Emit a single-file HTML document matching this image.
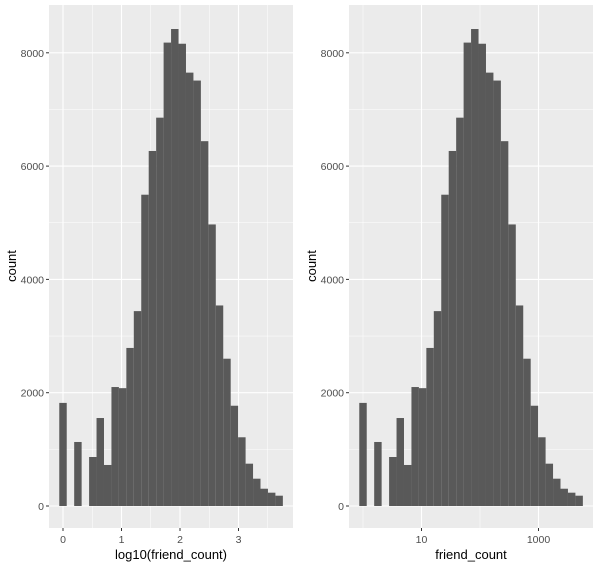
<!DOCTYPE html>
<html><head><meta charset="utf-8"><style>
html,body{margin:0;padding:0;background:#fff;}
svg{display:block;font-family:"Liberation Sans",Arial,sans-serif;}
</style></head><body>
<svg id="chart" width="600" height="567" viewBox="0 0 600 567"></svg>
<script>
const binCounts = [1820,0,1130,0,865,1553,724,2100,2080,2790,3440,5495,6267,6855,8180,8420,8160,7650,7510,6440,4970,3540,2600,1770,1213,747,482,305,235,182];
const binWidth = 0.1274;
const yTicks = [0,2000,4000,6000,8000];
const leftXTicks = [0,1,2,3];
const leftXTickLabels = ["0","1","2","3"];
const rightXTicks = [1,3];
const rightXTickLabels = ["10","1000"];
const rightXMinor = [0,2];
const leftXMinor = [0.5,1.5,2.5,3.5];

const NS="http://www.w3.org/2000/svg";
const svg=document.getElementById('chart');
function mk(tag,attrs,parent){const e=document.createElementNS(NS,tag);for(const k in attrs)e.setAttribute(k,attrs[k]);(parent||svg).appendChild(e);return e;}
const y=v=>506-v*0.05665;

function panel(ox,xTicks,xLabels,xMinor,xTitle,name){
  const xs=v=>ox+63+58.5*v;
  const g=mk('g',{});
  
  
  const bg=mk('rect',{x:ox+49,y:5,width:244,height:523,fill:'#ebebeb'},g);
  
  
  // y minor
  for(let v=1000;v<=7000;v+=2000){const l=mk('line',{x1:ox+49,x2:ox+293,y1:y(v),y2:y(v),stroke:'#fff','stroke-width':0.5},g);}
  xMinor.forEach(v=>{const l=mk('line',{x1:xs(v),x2:xs(v),y1:5,y2:528,stroke:'#fff','stroke-width':0.5},g);});
  yTicks.forEach(v=>{const l=mk('line',{x1:ox+49,x2:ox+293,y1:y(v),y2:y(v),stroke:'#fff','stroke-width':1.1},g);});
  xTicks.forEach(v=>{const l=mk('line',{x1:xs(v),x2:xs(v),y1:5,y2:528,stroke:'#fff','stroke-width':1.1},g);});
  binCounts.forEach((c,k)=>{
    if(c<=0)return;
    const x0=xs((k-0.5)*binWidth),x1=xs((k+0.5)*binWidth);
    const r=mk('rect',{x:x0,y:y(c),width:x1-x0,height:y(0)-y(c),fill:'#595959'},g);
    
    
  });
  yTicks.forEach(v=>{
    const t=mk('line',{x1:ox+46,x2:ox+49,y1:y(v),y2:y(v),stroke:'#333','stroke-width':1},g);
    
    const tx=mk('text',{x:ox+44,y:y(v)+4,'text-anchor':'end','font-size':'10.5',fill:'#4d4d4d'},g);
    tx.textContent=String(v);
    
  });
  xTicks.forEach((v,i)=>{
    const t=mk('line',{x1:xs(v),x2:xs(v),y1:528,y2:531,stroke:'#333','stroke-width':1},g);
    
    const tx=mk('text',{x:xs(v),y:543,'text-anchor':'middle','font-size':'10.5',fill:'#4d4d4d'},g);
    tx.textContent=xLabels[i];
    
  });
  const xt=mk('text',{x:ox+171,y:559,'text-anchor':'middle','font-size':'13',fill:'#000'},g);
  xt.textContent=xTitle;
  
  const yt=mk('text',{x:0,y:0,'text-anchor':'middle','font-size':'13',fill:'#000',transform:`translate(${ox+16},266) rotate(-90)`},g);
  yt.textContent='count';
  
}
panel(0,leftXTicks,leftXTickLabels,leftXMinor,'log10(friend_count)','left-panel');
panel(300,rightXTicks,rightXTickLabels,rightXMinor,'friend_count','right-panel');
</script>
</body></html>
